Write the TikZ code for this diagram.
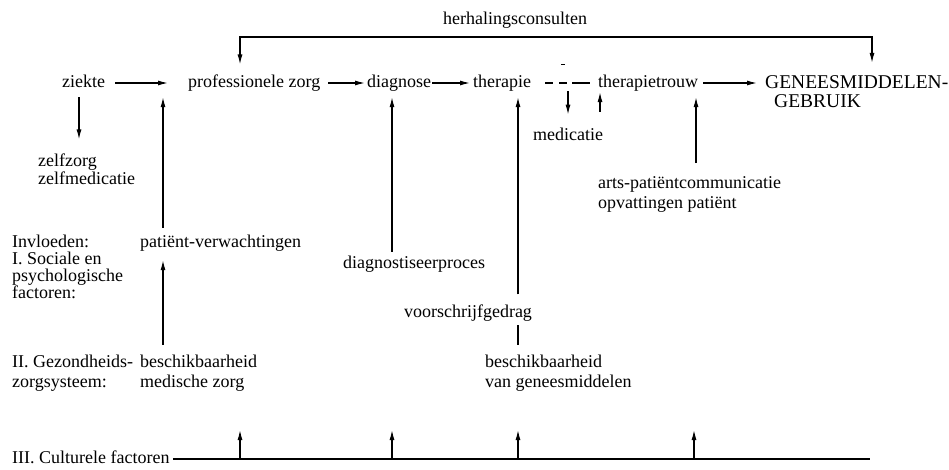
\documentclass[tikz,border=0pt]{standalone}
\usepackage{fontspec}
\setmainfont{Liberation Serif}
\usetikzlibrary{arrows.meta}
\begin{document}
\begin{tikzpicture}[x=1pt,y=-1pt,
  lbl/.style={inner sep=0pt, anchor=base west, font=\fontsize{18}{18}\selectfont, align=left},
  ln/.style={line width=1.2pt},
  arr/.style={ln, -{Latex[length=10pt,width=5pt]}},
  arrboth/.style={ln, {Latex[length=10pt,width=5pt]}-{Latex[length=10pt,width=5pt]}}]
\useasboundingbox[fill=white] (0,0) rectangle (949,469);

% nodes (multi-line nodes are placed by the baseline of their last line)
\node[lbl, anchor=base] (hc) at (515,24) {herhalingsconsulten};
\node[lbl] (zi) at (62,87) {ziekte};
\node[lbl] (pz) at (188,87) {professionele zorg};
\node[lbl] (dg) at (367,87) {diagnose};
\node[lbl] (th) at (473,87) {therapie};
\node[lbl] (tt) at (598,87) {therapietrouw};
\node[lbl, font=\fontsize{19.5}{19}\selectfont] (gm) at (765,107) {GENEESMIDDELEN-\\\hspace*{9pt}GEBRUIK};
\node[lbl] (zz) at (38,184) {zelfzorg\\zelfmedicatie};
\node[lbl] (me) at (533,140) {medicatie};
\node[lbl, font=\fontsize{18}{20}\selectfont] (ap) at (598,208) {arts-patiëntcommunicatie\\opvattingen patiënt};
\node[lbl] (pv) at (140,247) {patiënt-verwachtingen};
\node[lbl, font=\fontsize{18}{17}\selectfont] (inv) at (12,298) {Invloeden:\\I. Sociale en\\psychologische\\factoren:};
\node[lbl] (dp) at (343,268) {diagnostiseerproces};
\node[lbl, anchor=base] (vg) at (468,317) {voorschrijfgedrag};
\node[lbl, font=\fontsize{18}{20}\selectfont] (bm) at (140,387) {beschikbaarheid\\medische zorg};
\node[lbl, font=\fontsize{18}{20}\selectfont] (gz) at (12,387) {II. Gezondheids-\\zorgsysteem:};
\node[lbl, font=\fontsize{18}{20}\selectfont] (bg) at (485,387) {beschikbaarheid\\van geneesmiddelen};
\node[lbl] (cf) at (12,463) {III. Culturele factoren};

% main row
\draw[arr, shorten <=10pt, shorten >=20pt] ([yshift=4pt]zi.base east) -- ([yshift=4pt]pz.base west);
\draw[arr, shorten <=7.5pt, shorten >=2pt] ([yshift=4pt]pz.base east) -- ([yshift=4pt]dg.base west);
\draw[arr, shorten <=1pt, shorten >=3pt] ([yshift=4pt]dg.base east) -- ([yshift=4pt]th.base west);
\draw[ln, dash pattern=on 8pt off 6pt on 8pt off 5pt on 18pt off 60pt, shorten <=14pt, shorten >=8pt] ([yshift=4pt]th.base east) -- ([yshift=4pt]tt.base west);
\draw[arr, shorten <=5pt, shorten >=8pt] ([yshift=4pt]tt.base east) -- ([yshift=4pt]tt.base east -| gm.west);
\draw[ln, line width=1pt] (561,64) -- (565,64);

% repeat consultations loop
\draw[arrboth, shorten <=9.7pt, shorten >=12pt] ([xshift=52pt]pz.north west) |- ([yshift=-9pt]hc.south) -| ([xshift=107pt]gm.north west);

% vertical connectors
\draw[arr, shorten <=10pt, shorten >=13.7pt] ([xshift=17pt]zi.south west) -- ([xshift=17pt]zi.south west |- zz.north);
\draw[arr, shorten <=6.7pt, shorten >=6.1pt] ([xshift=23pt]pv.north west) -- ([xshift=23pt]pv.north west |- pz.south);
\draw[arr, shorten <=9.7pt, shorten >=9.1pt] ([xshift=23pt]bm.north west) -- ([xshift=23pt]bm.north west |- pv.south);
\draw[arr, shorten <=3.7pt, shorten >=6.1pt] ([xshift=49pt]dp.north west) -- ([xshift=49pt]dp.north west |- dg.south);
\draw[arr, shorten <=9.7pt, shorten >=6.1pt] ([xshift=50pt]vg.north) -- ([xshift=50pt]vg.north |- th.south);
\draw[ln, shorten <=9.7pt, shorten >=4.1pt] ([xshift=33pt]bg.north west) -- ([xshift=33pt]bg.north west |- vg.south);
\draw[arr, shorten >=12.7pt] ([xshift=95pt]th.south west) -- ([xshift=95pt]th.south west |- me.north);
\draw[arr, shorten <=15.7pt, shorten >=1.1pt] ([xshift=67pt]me.north west) -- ([xshift=67pt]me.north west |- tt.south);
\draw[arr, shorten <=12.7pt, shorten >=6.1pt] ([xshift=98pt]ap.north west) -- ([xshift=98pt]ap.north west |- tt.south);

% cultural factors base line
\coordinate (cfend) at (870,459);
\coordinate (u1) at (240,430);
\coordinate (u2) at (392,430);
\coordinate (u3) at (518,430);
\coordinate (u4) at (694,430);
\draw[ln, shorten <=3pt] ([yshift=4pt]cf.base east) -- (cfend);
\foreach \u in {u1,u2,u3,u4} \draw[arr] (\u |- cfend) -- (\u);
\end{tikzpicture}
\end{document}
